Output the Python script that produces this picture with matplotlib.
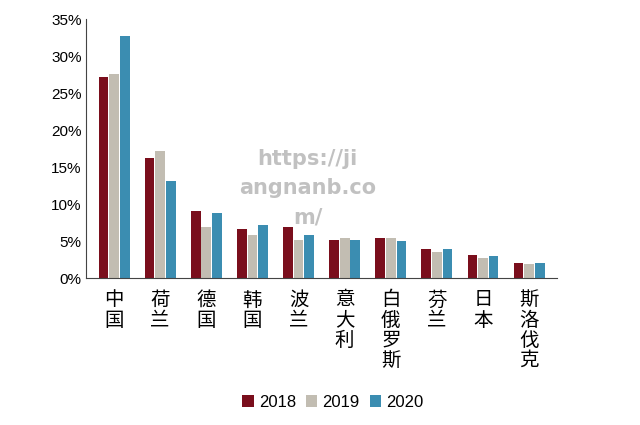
import matplotlib
matplotlib.use("Agg")
import matplotlib.pyplot as plt
from matplotlib import font_manager
import numpy as np

names = {f.name for f in font_manager.fontManager.ttflist}
cjk = [n for n in ["Noto Sans CJK SC", "Noto Sans CJK JP", "Noto Sans CJK TC", "Noto Sans CJK KR"] if n in names]
if not cjk:
    cjk = [f.name for f in font_manager.fontManager.ttflist if "CJK" in f.name][:1]
plt.rcParams['font.family'] = cjk + ['DejaVu Sans']

categories = ["中国", "荷兰", "德国", "韩国", "波兰", "意大利", "白俄罗斯", "芬兰", "日本", "斯洛伐克"]
series_names = ["2018", "2019", "2020"]
v2018 = [27.2, 16.2, 9.1, 6.6, 6.9, 5.2, 5.4, 4.0, 3.1, 2.1]
v2019 = [27.6, 17.2, 7.0, 5.8, 5.2, 5.4, 5.4, 3.6, 2.7, 1.9]
v2020 = [32.7, 13.1, 8.8, 7.2, 5.9, 5.2, 5.0, 4.0, 3.0, 2.1]
yticks = [0, 5, 10, 15, 20, 25, 30, 35]
colors = ["#7A0E1C", "#C2BDB2", "#3B8DB1"]

fig = plt.figure(figsize=(6.4, 4.25), dpi=100)
ax = fig.add_axes([0.135, 0.345, 0.735, 0.61])
x = np.arange(len(categories))
w = 0.21
for i, (vals, c, n) in enumerate(zip([v2018, v2019, v2020], colors, series_names)):
    ax.bar(x + (i - 1) * (w + 0.02), vals, w, color=c, label=n)

ax.set_ylim(0, 35)
ax.set_xlim(-0.6, len(categories) - 0.4)
ax.set_yticks(yticks)
ax.set_yticklabels([f"{t}%" for t in yticks], fontsize=11, fontfamily="Liberation Sans")
ax.set_xticks(x)
ax.set_xticklabels(["\n".join(c) for c in categories], fontsize=14, linespacing=0.95, va="top")
for s in ["top", "right"]:
    ax.spines[s].set_visible(False)
ax.spines["left"].set_color("#444444")
ax.spines["bottom"].set_color("#444444")
ax.tick_params(axis="x", length=0, pad=8)
ax.tick_params(axis="y", length=0)

ax.text(4.2, 17.5, "https://ji\nangnanb.co\nm/", fontsize=15, color="#999999", alpha=0.6,
        fontweight="bold", ha="center", va="top", fontfamily="DejaVu Sans", linespacing=1.6)

fig.legend(loc="lower center", bbox_to_anchor=(0.52, 0.0), ncol=3, frameon=False,
           prop={"family": "Liberation Sans", "size": 12}, handlelength=0.7, handleheight=0.7,
           columnspacing=0.6, handletextpad=0.3)
fig.savefig("out.png", dpi=100)
